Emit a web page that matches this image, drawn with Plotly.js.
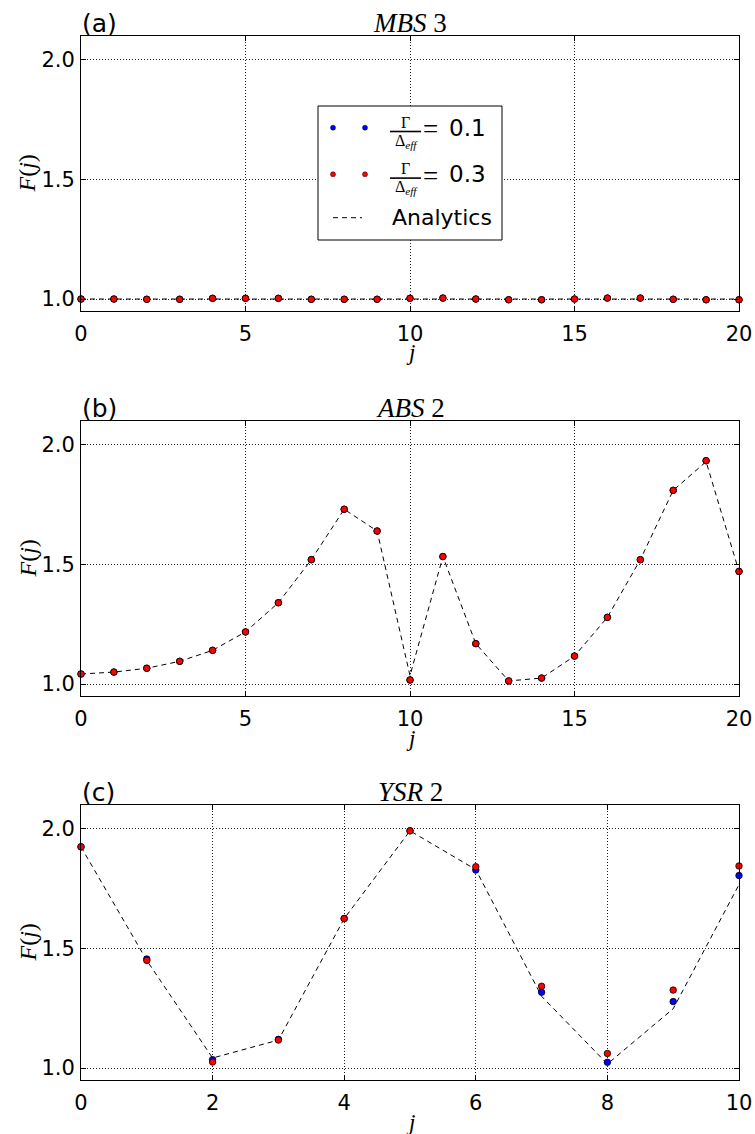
<!DOCTYPE html>
<html>
<head>
<meta charset="utf-8">
<script src="https://cdn.plot.ly/plotly-3.0.1.min.js"></script>
<style>
  html, body { margin: 0; padding: 0; background: #fff; }
  #chart { width: 755px; height: 1134px; }
</style>
</head>
<body>
<div id="chart"></div>
<script>
// ---- data ----
// (a) MBS 3
const jA = [0, 1, 2, 3, 4, 5, 6, 7, 8, 9, 10, 11, 12, 13, 14, 15, 16, 17, 18, 19, 20];
const mbsG01 = [1.000, 1.000, 0.999, 0.999, 1.003, 1.003, 1.003, 0.999, 0.999, 0.999, 1.003,
                1.004, 1.000, 0.997, 0.997, 1.000, 1.004, 1.004, 0.999, 0.997, 0.997];
const mbsG03 = [1.000, 1.000, 0.999, 0.999, 1.003, 1.003, 1.003, 0.999, 0.999, 0.999, 1.003,
                1.004, 1.000, 0.997, 0.997, 1.000, 1.004, 1.004, 0.999, 0.997, 0.997];
const mbsAnalytic = [1, 1, 1, 1, 1, 1, 1, 1, 1, 1, 1, 1, 1, 1, 1, 1, 1, 1, 1, 1, 1];

// (b) ABS 2
const jB = [0, 1, 2, 3, 4, 5, 6, 7, 8, 9, 10, 11, 12, 13, 14, 15, 16, 17, 18, 19, 20];
const absG01 = [1.042, 1.050, 1.066, 1.095, 1.141, 1.218, 1.340, 1.520, 1.731, 1.640, 1.017,
                1.533, 1.169, 1.013, 1.025, 1.117, 1.279, 1.520, 1.810, 1.934, 1.471];
const absG03 = [1.042, 1.050, 1.066, 1.095, 1.141, 1.218, 1.340, 1.520, 1.731, 1.640, 1.017,
                1.533, 1.169, 1.013, 1.025, 1.117, 1.279, 1.520, 1.810, 1.934, 1.471];
const absAnalytic = [1.042, 1.050, 1.066, 1.095, 1.141, 1.218, 1.340, 1.520, 1.731, 1.640, 1.035,
                     1.533, 1.169, 1.013, 1.025, 1.117, 1.279, 1.520, 1.810, 1.930, 1.471];

// (c) YSR 2
const jC = [0, 1, 2, 3, 4, 5, 6, 7, 8, 9, 10];
const ysrG01 = [1.925, 1.456, 1.035, 1.120, 1.625, 1.992, 1.828, 1.317, 1.024, 1.278, 1.805];
const ysrG03 = [1.925, 1.450, 1.025, 1.117, 1.625, 1.992, 1.842, 1.342, 1.061, 1.326, 1.845];
const ysrAnalytic = [1.925, 1.450, 1.042, 1.117, 1.625, 1.992, 1.830, 1.300, 1.017, 1.248, 1.767];

const yTicks = [1.0, 1.5, 2.0];
const yTickText = ['1.0', '1.5', '2.0'];
const xTicksAB = [0, 5, 10, 15, 20];
const xTicksC = [0, 2, 4, 6, 8, 10];

const panelLetters = ['(a)', '(b)', '(c)'];
const panelTitles = ['<i>MBS</i> 3', '<i>ABS</i> 2', '<i>YSR</i> 2'];
const legendLabels = ['0.1', '0.3', 'Analytics'];

// ---- geometry (pixels) ----
const W = 755, H = 1134;
const px = p => p / W;
const py = p => 1 - p / H;
const plotLeft = 81, plotRight = 739;
const panels = [
  { top: 36,  bottom: 311, x: jA, g1: mbsG01, g3: mbsG03, an: mbsAnalytic, xr: [0, 20], xt: xTicksAB },
  { top: 421, bottom: 696, x: jB, g1: absG01, g3: absG03, an: absAnalytic, xr: [0, 20], xt: xTicksAB },
  { top: 805, bottom: 1080, x: jC, g1: ysrG01, g3: ysrG03, an: ysrAnalytic, xr: [0, 10], xt: xTicksC }
];

const SANS = 'DejaVu Sans, sans-serif';
const SERIF = 'Liberation Serif, DejaVu Serif, serif';
const BLUE = '#0000ff', RED = '#ff0000';

const traces = [];
const layout = {
  width: W, height: H,
  margin: { l: 0, r: 0, t: 0, b: 0 },
  paper_bgcolor: '#fff', plot_bgcolor: '#fff',
  showlegend: false,
  font: { family: SANS, color: '#000' },
  annotations: [],
  shapes: []
};

function axisCommon() {
  return {
    showline: true, mirror: 'ticks', linecolor: '#000', linewidth: 1,
    ticks: 'inside', ticklen: 5, tickwidth: 1, tickcolor: '#000',
    showgrid: true, gridcolor: '#222', gridwidth: 1, griddash: '1px,2px',
    zeroline: false, fixedrange: true,
    tickfont: { family: SANS, size: 21, color: '#000' }
  };
}

panels.forEach((p, i) => {
  const n = i === 0 ? '' : String(i + 1);
  const xa = 'x' + n, ya = 'y' + n;
  layout['xaxis' + n] = Object.assign(axisCommon(), {
    domain: [px(plotLeft), px(plotRight)], range: p.xr, anchor: ya,
    tickmode: 'array', tickvals: p.xt, ticktext: p.xt.map(String),
    ticklabelstandoff: 4
  });
  layout['yaxis' + n] = Object.assign(axisCommon(), {
    domain: [py(p.bottom), py(p.top)], range: [0.95, 2.1], anchor: xa,
    tickmode: 'array', tickvals: yTicks, ticktext: yTickText,
    ticklabelstandoff: 1
  });

  traces.push({
    x: p.x, y: p.an, xaxis: xa, yaxis: ya, type: 'scatter', mode: 'lines',
    line: { color: '#000', width: 1, dash: '5px,4px' }, cliponaxis: true
  });
  traces.push({
    x: p.x, y: p.g1, xaxis: xa, yaxis: ya, type: 'scatter', mode: 'markers',
    marker: { color: BLUE, size: 6.5, line: { color: '#000', width: 0.8 } }, cliponaxis: false
  });
  traces.push({
    x: p.x, y: p.g3, xaxis: xa, yaxis: ya, type: 'scatter', mode: 'markers',
    marker: { color: RED, size: 6.5, line: { color: '#000', width: 0.8 } }, cliponaxis: false
  });

  const cx = (plotLeft + plotRight) / 2;
  layout.annotations.push(
    { text: panelLetters[i], xref: 'paper', yref: 'paper', x: px(plotLeft - 1), y: py(p.top - 13),
      xanchor: 'left', yanchor: 'middle', showarrow: false, font: { family: SANS, size: 25, color: '#000' } },
    { text: panelTitles[i], xref: 'paper', yref: 'paper', x: px(cx), y: py(p.top - 13),
      xanchor: 'center', yanchor: 'middle', showarrow: false, font: { family: SERIF, size: 27, color: '#000' } },
    { text: '<i>F</i>(<i>j</i>)', xref: 'paper', yref: 'paper', x: px(27), y: py((p.top + p.bottom) / 2),
      xanchor: 'center', yanchor: 'middle', textangle: -90, showarrow: false,
      font: { family: SERIF, size: 24, color: '#000' } },
    { text: '<i>j</i>', xref: 'paper', yref: 'paper', x: px(cx), y: py(p.bottom + 42),
      xanchor: 'center', yanchor: 'middle', showarrow: false, font: { family: SERIF, size: 23, color: '#000' } }
  );
});

// ---- legend box in panel (a) ----
const box = { l: 318, r: 502, t: 106, b: 240 };
layout.shapes.push({
  type: 'rect', xref: 'paper', yref: 'paper', layer: 'above',
  x0: px(box.l), x1: px(box.r), y0: py(box.b), y1: py(box.t),
  fillcolor: '#fff', line: { color: '#000', width: 1 }
});
const rows = [
  { y: 127.7, color: BLUE, label: legendLabels[0] },
  { y: 174.3, color: RED, label: legendLabels[1] }
];
rows.forEach(r => {
  [333, 365].forEach(cxp => {
    layout.shapes.push({
      type: 'circle', xref: 'paper', yref: 'paper', layer: 'above',
      x0: px(cxp - 2.5), x1: px(cxp + 2.5), y0: py(r.y + 2.5), y1: py(r.y - 2.5),
      fillcolor: r.color, line: { color: '#000', width: 0.5 }
    });
  });
  // fraction Γ / Δ_eff
  layout.shapes.push({
    type: 'line', xref: 'paper', yref: 'paper', layer: 'above',
    x0: px(390), x1: px(421), y0: py(r.y + 3.8), y1: py(r.y + 3.8),
    line: { color: '#000', width: 1.6 }
  });
  layout.annotations.push(
    { text: 'Γ', xref: 'paper', yref: 'paper', x: px(405.5), y: py(r.y - 5.5),
      xanchor: 'center', yanchor: 'middle', showarrow: false, font: { family: SERIF, size: 16, color: '#000' } },
    { text: 'Δ<sub><i>eff</i></sub>', xref: 'paper', yref: 'paper', x: px(406), y: py(r.y + 13.5),
      xanchor: 'center', yanchor: 'middle', showarrow: false, font: { family: SERIF, size: 16, color: '#000' } },
    { text: '=', xref: 'paper', yref: 'paper', x: px(431), y: py(r.y + 1.5),
      xanchor: 'center', yanchor: 'middle', showarrow: false, font: { family: SERIF, size: 27, color: '#000' } },
    { text: r.label, xref: 'paper', yref: 'paper', x: px(447), y: py(r.y),
      xanchor: 'left', yanchor: 'middle', showarrow: false, font: { family: SANS, size: 23, color: '#000' } }
  );
});
layout.shapes.push({
  type: 'line', xref: 'paper', yref: 'paper', layer: 'above',
  x0: px(333), x1: px(362), y0: py(217.7), y1: py(217.7),
  line: { color: '#000', width: 1, dash: '5px,4px' }
});
layout.annotations.push({
  text: legendLabels[2], xref: 'paper', yref: 'paper', x: px(390), y: py(218),
  xanchor: 'left', yanchor: 'middle', showarrow: false, font: { family: SANS, size: 22, color: '#000' }
});

Plotly.newPlot('chart', traces, layout, { staticPlot: true, displayModeBar: false });
</script>
</body>
</html>
